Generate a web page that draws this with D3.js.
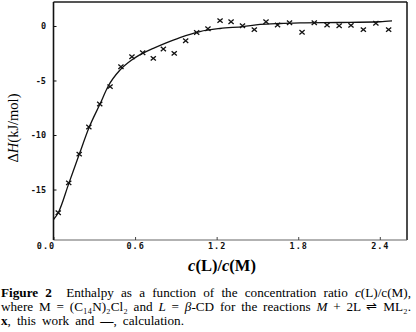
<!DOCTYPE html>
<html>
<head>
<meta charset="utf-8">
<script src="https://cdn.jsdelivr.net/npm/d3@7"></script>
<style>
  body { margin: 0; background: #fff; }
  svg { display: block; }
</style>
</head>
<body>
<script>
// ***************************************
//       DATA
// ***************************************
const ratioMeasured = [0.035, 0.112, 0.189, 0.260, 0.340, 0.416, 0.496, 0.577, 0.656, 0.734,
                       0.808, 0.888, 0.972, 1.053, 1.136, 1.225, 1.306, 1.390, 1.477, 1.563,
                       1.648, 1.736, 1.828, 1.918, 2.012, 2.101, 2.188, 2.279, 2.371, 2.465];
const enthalpyMeasured = [-17.13, -14.39, -11.75, -9.27, -7.16, -5.56, -3.74, -2.82, -2.45, -2.97,
                          -2.11, -2.51, -1.35, -0.60, -0.26, 0.49, 0.39, 0.02, -0.33, 0.39,
                          0.09, 0.30, -0.57, 0.30, 0.09, 0.02, 0.06, -0.33, 0.25, -0.33];
const ratioCalc = [0.0, 0.035, 0.114, 0.190, 0.263, 0.342, 0.403, 0.489, 0.575, 0.656, 0.734,
                   0.820, 0.930, 1.077, 1.225, 1.394, 1.519, 1.666, 1.813, 2.107, 2.401, 2.490];
const enthalpyCalc = [-17.75, -17.13, -14.39, -11.75, -9.27, -7.16, -5.51, -4.04, -3.12, -2.51, -2.05,
                      -1.59, -1.06, -0.51, -0.23, -0.05, 0.14, 0.23, 0.28, 0.32, 0.39, 0.46];
const xTicks = [0, 0.6, 1.2, 1.8, 2.4];
const xTickLabels = ["0.0", "0.6", "1.2", "1.8", "2.4"];
const yTicks = [0, -5, -10, -15];
const yTickLabels = ["0", "-5", "-10", "-15"];

// ***************************************
//       DIMENSIONS
// ***************************************
const width = 416;
const height = 332;
const plotLeft = 53.5, plotRight = 407, plotTop = 2, plotBottom = 240;

const svg = d3.select("body")
    .append("svg")
    .attr("width", width)
    .attr("height", height);

const x = d3.scaleLinear().domain([0, 2.6]).range([plotLeft, plotRight]);
const y = d3.scaleLinear().domain([-19.63, 2.2]).range([plotBottom, plotTop]);

// ***************************************
//       FRAME
// ***************************************
svg.append("line") // top
    .attr("x1", plotLeft).attr("x2", plotRight).attr("y1", plotTop).attr("y2", plotTop)
    .attr("stroke", "#555").attr("stroke-width", 2);
svg.append("line") // right
    .attr("x1", plotRight).attr("x2", plotRight).attr("y1", plotTop).attr("y2", plotBottom)
    .attr("stroke", "#111").attr("stroke-width", 1.5);

// ***************************************
//       AXES
// ***************************************
const xAxis = svg.append("g")
    .attr("transform", "translate(0," + plotBottom + ")")
    .call(d3.axisTop(x).tickValues(xTicks).tickSize(3).tickFormat((d, i) => xTickLabels[i]));
xAxis.select(".domain").attr("stroke", "#666").attr("stroke-width", 1.2)
    .attr("d", "M" + plotLeft + ",0H" + plotRight);
xAxis.selectAll(".tick line").attr("stroke", "#444");
xAxis.selectAll(".tick text")
    .attr("y", 8.5)
    .attr("dy", 0)
    .attr("dx", (d, i) => i === 0 ? -8 : 0)
    .style("font-family", "'DejaVu Sans Mono', monospace")
    .style("font-weight", "bold")
    .style("font-size", "8.5px")
    .style("letter-spacing", "1px")
    .attr("fill", "#111");

const yAxis = svg.append("g")
    .attr("transform", "translate(" + plotLeft + ",0)")
    .call(d3.axisRight(y).tickValues(yTicks).tickSize(3).tickFormat((d, i) => yTickLabels[i]));
yAxis.select(".domain").attr("stroke", "#111").attr("stroke-width", 1.6)
    .attr("d", "M0," + plotTop + "V" + plotBottom);
yAxis.selectAll(".tick line").attr("stroke", "#111");
yAxis.selectAll(".tick text")
    .attr("x", -7.5)
    .attr("text-anchor", "end")
    .style("font-family", "'DejaVu Sans Mono', monospace")
    .style("font-weight", "bold")
    .style("font-size", "8.5px")
    .attr("fill", "#111");

// axis titles
const xTitle = svg.append("text")
    .attr("x", 222).attr("y", 271)
    .attr("text-anchor", "middle")
    .style("font-family", "'Liberation Serif', serif")
    .style("font-weight", "bold")
    .style("font-size", "16.5px");
xTitle.append("tspan").style("font-style", "italic").text("c");
xTitle.append("tspan").text("(L)/");
xTitle.append("tspan").style("font-style", "italic").text("c");
xTitle.append("tspan").text("(M)");

const yTitle = svg.append("text")
    .attr("transform", "translate(18,128) rotate(-90)")
    .attr("text-anchor", "middle")
    .style("font-family", "'Liberation Serif', serif")
    .style("font-size", "14.5px");
yTitle.append("tspan").text("Δ");
yTitle.append("tspan").style("font-style", "italic").text("H");
yTitle.append("tspan").text("(kJ/mol)");

// ***************************************
//       CALCULATED CURVE + MEASURED POINTS
// ***************************************
const calc = ratioCalc.map((d, i) => [d, enthalpyCalc[i]]);
svg.append("path")
    .datum(calc)
    .attr("fill", "none")
    .attr("stroke", "#111")
    .attr("stroke-width", 1.3)
    .attr("d", d3.line().x(d => x(d[0])).y(d => y(d[1])).curve(d3.curveMonotoneX));

const measured = ratioMeasured.map((d, i) => [d, enthalpyMeasured[i]]);
svg.selectAll(".cross")
    .data(measured)
    .enter()
    .append("path")
    .classed("cross", true)
    .attr("transform", d => "translate(" + x(d[0]) + "," + y(d[1]) + ")")
    .attr("d", "M-2.6,-2.2L2.6,2.2M-2.6,2.2L2.6,-2.2")
    .attr("stroke", "#111")
    .attr("stroke-width", 1.3);

// ***************************************
//       CAPTION
// ***************************************
const capFont = "'Liberation Serif', serif";
function captionLine(yPos, target) {
    return svg.append("text")
        .attr("x", 1).attr("y", yPos)
        .attr("data-target", target)
        .style("font-family", capFont).style("font-size", "13.2px");
}
// stretch (or squeeze) word spacing so a line fills its width like the justified original
function justify(t) {
    const target = +t.attr("data-target");
    const natural = t.node().getComputedTextLength();
    const spaces = (t.text().match(/[ \u00a0]/g) || []).length;
    if (spaces > 0) {
        t.style("word-spacing", ((target - natural) / spaces) + "px");
    }
}

const cap1 = captionLine(297, 410);
cap1.append("tspan").style("font-weight", "bold").text("Figure 2");
cap1.append("tspan").text("\u00a0\u00a0Enthalpy as a function of the concentration ratio ");
cap1.append("tspan").style("font-style", "italic").text("c");
cap1.append("tspan").text("(L)/c(M),");

const cap2 = captionLine(311, 410);
cap2.append("tspan").text("where M = (C\u2081\u2084N)\u2082Cl\u2082 and ");
cap2.append("tspan").style("font-style", "italic").text("L");
cap2.append("tspan").text(" = ");
cap2.append("tspan").style("font-style", "italic").text("β");
cap2.append("tspan").text("-CD for the reactions ");
cap2.append("tspan").style("font-style", "italic").text("M");
cap2.append("tspan").text(" + 2L \u21cc ML\u2082.");

const cap3 = captionLine(324.5, 183);
cap3.append("tspan").style("font-weight", "bold").text("x");
cap3.append("tspan").text(", this work and ");
cap3.append("tspan").style("font-weight", "bold").text("\u2014");
cap3.append("tspan").text(", calculation.");

[cap1, cap2, cap3].forEach(justify);
</script>
</body>
</html>
